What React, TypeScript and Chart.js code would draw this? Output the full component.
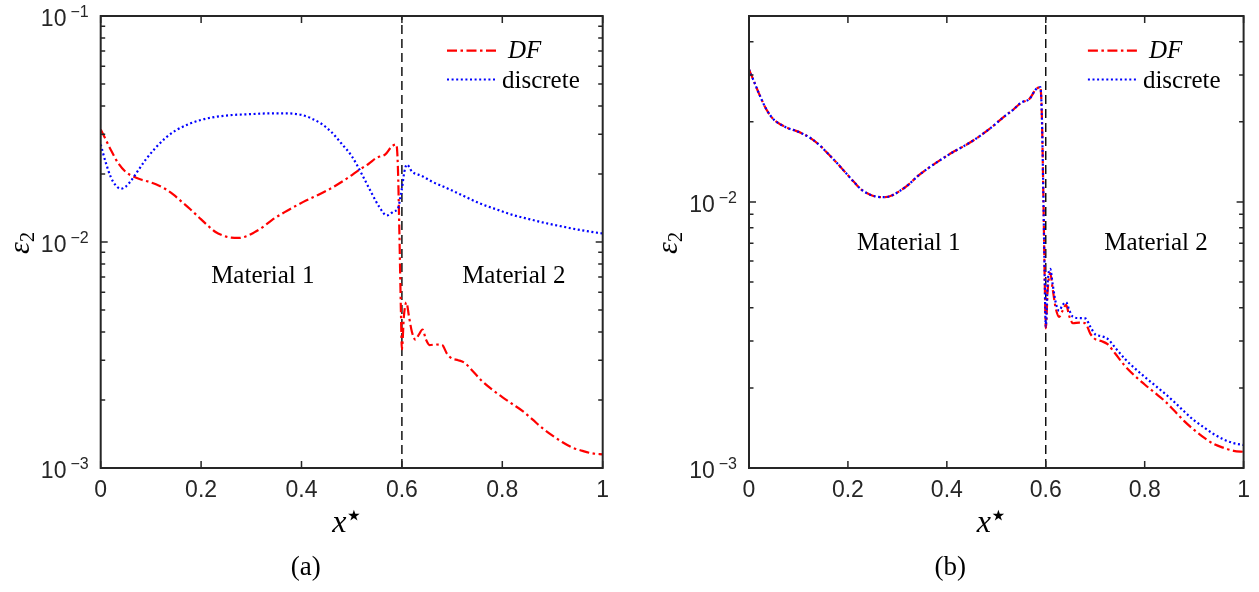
import React, { useEffect, useRef } from "react";
import { Chart, registerables } from "chart.js";

Chart.register(...registerables);

// ---------------- data ----------------
const xTickValues = [0, 0.2, 0.4, 0.6, 0.8, 1];
const decadeExponents = [-3, -2, -1];
const interfaceX = 0.6;
const legendLabels = ["DF", "discrete"];
const materialLabels = ["Material 1", "Material 2"];
const captions = ["(a)", "(b)"];

// DF curve (same in both panels)
const dfX = [0, 0.01, 0.02, 0.035, 0.05, 0.065, 0.08, 0.095, 0.11, 0.128, 0.145, 0.161, 0.178, 0.195, 0.212, 0.228, 0.245, 0.26, 0.275, 0.29, 0.305, 0.322, 0.341, 0.36, 0.375, 0.39, 0.41, 0.434, 0.455, 0.474, 0.495, 0.514, 0.534, 0.55, 0.567, 0.58, 0.589, 0.592, 0.595, 0.598, 0.6, 0.604, 0.609, 0.614, 0.62, 0.627, 0.634, 0.641, 0.648, 0.655, 0.668, 0.68, 0.69, 0.7, 0.712, 0.725, 0.74, 0.76, 0.78, 0.8, 0.82, 0.84, 0.86, 0.88, 0.9, 0.92, 0.94, 0.96, 0.98, 1];
const dfY = [0.0315, 0.0284, 0.0256, 0.0223, 0.0204, 0.0195, 0.0189, 0.0185, 0.018, 0.0172, 0.0162, 0.0151, 0.014, 0.0129, 0.0119, 0.0111, 0.01065, 0.01045, 0.01042, 0.0106, 0.011, 0.0116, 0.0125, 0.0133, 0.0139, 0.0145, 0.0153, 0.0162, 0.0171, 0.0181, 0.0194, 0.0208, 0.0222, 0.0236, 0.0244, 0.0265, 0.027, 0.0215, 0.011, 0.005, 0.00335, 0.0047, 0.0054, 0.0047, 0.004, 0.0037, 0.0039, 0.0041, 0.0037, 0.0035, 0.00352, 0.0035, 0.0032, 0.00305, 0.003, 0.00292, 0.0027, 0.00242, 0.00222, 0.00206, 0.00192, 0.00179, 0.00164, 0.0015, 0.00139, 0.0013, 0.00123, 0.00119, 0.00116, 0.00115];

// discrete curve, panel (a)
const discAX = [0, 0.01, 0.02, 0.03, 0.04, 0.05, 0.06, 0.075, 0.09, 0.11, 0.13, 0.15, 0.175, 0.2, 0.23, 0.265, 0.3, 0.34, 0.37, 0.4, 0.42, 0.44, 0.46, 0.48, 0.5, 0.52, 0.54, 0.555, 0.57, 0.585, 0.592, 0.597, 0.6, 0.605, 0.61, 0.62, 0.64, 0.66, 0.69, 0.72, 0.756, 0.79, 0.822, 0.855, 0.888, 0.92, 0.955, 1];
const discAY = [0.027, 0.0225, 0.0194, 0.0178, 0.0172, 0.0176, 0.0186, 0.0208, 0.0232, 0.0262, 0.029, 0.0312, 0.0332, 0.0347, 0.0358, 0.0365, 0.0368, 0.0371, 0.0371, 0.0365, 0.0352, 0.0333, 0.0306, 0.0272, 0.024, 0.02, 0.0164, 0.0143, 0.0131, 0.0137, 0.014, 0.0158, 0.0172, 0.0205, 0.022, 0.0205, 0.0196, 0.0185, 0.0173, 0.0161, 0.0148, 0.0139, 0.01315, 0.0126, 0.0121, 0.0117, 0.0113, 0.0109];

// discrete curve, panel (b)
const discBX = [0, 0.01, 0.02, 0.035, 0.05, 0.065, 0.08, 0.095, 0.11, 0.128, 0.145, 0.161, 0.178, 0.195, 0.212, 0.228, 0.245, 0.26, 0.275, 0.29, 0.305, 0.322, 0.341, 0.36, 0.375, 0.39, 0.41, 0.434, 0.455, 0.474, 0.495, 0.514, 0.534, 0.55, 0.567, 0.58, 0.589, 0.592, 0.595, 0.598, 0.6, 0.604, 0.609, 0.614, 0.62, 0.627, 0.634, 0.641, 0.648, 0.655, 0.668, 0.68, 0.69, 0.7, 0.712, 0.725, 0.74, 0.76, 0.78, 0.8, 0.82, 0.84, 0.86, 0.88, 0.9, 0.92, 0.94, 0.96, 0.98, 1];
const discBY = [0.0315, 0.0284, 0.0256, 0.0223, 0.0204, 0.0195, 0.0189, 0.0185, 0.018, 0.0172, 0.0162, 0.0151, 0.014, 0.0129, 0.0119, 0.0111, 0.01065, 0.01045, 0.01042, 0.0106, 0.011, 0.0116, 0.0125, 0.0133, 0.0139, 0.0145, 0.0153, 0.0162, 0.0171, 0.0181, 0.0194, 0.0208, 0.0222, 0.0236, 0.0244, 0.0265, 0.027, 0.0215, 0.011, 0.005, 0.0034, 0.005, 0.0056, 0.0049, 0.0042, 0.0039, 0.0041, 0.0042, 0.0039, 0.0037, 0.00366, 0.00365, 0.0034, 0.00318, 0.00313, 0.00306, 0.00284, 0.00257, 0.00237, 0.0022, 0.00205, 0.00191, 0.00177, 0.00163, 0.00151, 0.00142, 0.00134, 0.00128, 0.00124, 0.00122];

const yMinValue = 0.001;
const yMaxA = 0.1;
const yMaxB = 0.05;

// ---------------- styling ----------------
const AXIS = "#262626";
const SANS = '"Liberation Sans", Arial, Helvetica, sans-serif';
const SERIF = '"Liberation Serif", "Times New Roman", serif';
const RED_DASH = [10, 3.5, 2.5, 3.5];
const BLUE_DOT = [2, 2.6];

const toPoints = (xs: number[], ys: number[]) => xs.map((x, i) => ({ x, y: ys[i] }));

const decorPlugin = {
  id: "decor",
  afterDatasetsDraw(chart: any) {
    const { ctx, chartArea: a } = chart;
    const xs = chart.scales.x;
    const ys = chart.scales.y;
    const yMax = ys.max;
    ctx.save();
    ctx.strokeStyle = AXIS;
    ctx.setLineDash([]);
    ctx.lineWidth = 2;
    ctx.strokeRect(a.left, a.top, a.right - a.left, a.bottom - a.top);
    ctx.lineWidth = 1.5;
    ctx.beginPath();
    for (const t of xTickValues) {
      const px = xs.getPixelForValue(t);
      ctx.moveTo(px, a.bottom);
      ctx.lineTo(px, a.bottom - 7);
      ctx.moveTo(px, a.top);
      ctx.lineTo(px, a.top + 7);
    }
    for (const e of decadeExponents) {
      for (let m = 1; m <= 9; m++) {
        const v = m * Math.pow(10, e);
        if (v > yMax * 1.001) break;
        const py = ys.getPixelForValue(v);
        const len = m === 1 ? 7 : 4.5;
        ctx.moveTo(a.left, py);
        ctx.lineTo(a.left + len, py);
        ctx.moveTo(a.right, py);
        ctx.lineTo(a.right - len, py);
      }
    }
    ctx.stroke();
    ctx.restore();
  },
  afterDraw(chart: any) {
    const o = chart.options.plugins.decor;
    const { ctx, chartArea: a } = chart;
    const xs = chart.scales.x;
    const ys = chart.scales.y;
    ctx.save();
    ctx.fillStyle = AXIS;

    // y tick labels 10^e
    for (const e of decadeExponents) {
      const v = Math.pow(10, e);
      if (v > ys.max * 1.001) continue;
      const py = ys.getPixelForValue(v);
      const expStr = "\u2212" + Math.abs(e);
      ctx.textAlign = "right";
      ctx.textBaseline = "middle";
      ctx.font = "16px " + SANS;
      const xr = a.left - 12;
      ctx.fillText(expStr, xr, py - 3);
      const w = ctx.measureText(expStr).width;
      ctx.font = "23px " + SANS;
      ctx.fillText("10", xr - w - 4, py + 4);
    }

    // y axis title: epsilon_2 (rotated)
    ctx.save();
    ctx.translate(a.left - 72, (a.top + a.bottom) / 2 + 1);
    ctx.rotate(-Math.PI / 2);
    ctx.fillStyle = "#000";
    ctx.textBaseline = "alphabetic";
    ctx.textAlign = "left";
    ctx.font = "italic 30px " + SERIF;
    const we = ctx.measureText("\u03B5").width;
    ctx.font = "20px " + SERIF;
    const w2 = ctx.measureText("2").width;
    const sx = -(we + w2) / 2;
    ctx.font = "italic 30px " + SERIF;
    ctx.fillText("\u03B5", sx, 0);
    ctx.font = "20px " + SERIF;
    ctx.fillText("2", sx + we, 5);
    ctx.restore();

    // x axis title: x*
    ctx.save();
    ctx.fillStyle = "#000";
    ctx.textAlign = "left";
    ctx.textBaseline = "alphabetic";
    ctx.font = "italic 32px " + SERIF;
    const wx = ctx.measureText("x").width;
    ctx.font = "30px \"DejaVu Sans\", sans-serif";
    const ws = ctx.measureText("\u22C6").width;
    const cx = (a.left + a.right) / 2 - 3;
    const start = cx - (wx + ws) / 2;
    ctx.font = "italic 32px " + SERIF;
    ctx.fillText("x", start, 532);
    ctx.font = "30px \"DejaVu Sans\", sans-serif";
    ctx.fillText("\u22C6", start + wx - 2, 525);
    ctx.restore();

    // caption
    ctx.fillStyle = "#000";
    ctx.textAlign = "center";
    ctx.textBaseline = "middle";
    ctx.font = "27px " + SERIF;
    ctx.fillText(o.caption, (a.left + a.right) / 2 - 46, 568);

    // material labels
    ctx.textBaseline = "alphabetic";
    ctx.font = "25px " + SERIF;
    const my = ys.getPixelForValue(0.0066);
    ctx.fillText(materialLabels[0], xs.getPixelForValue(0.323), my);
    ctx.fillText(materialLabels[1], xs.getPixelForValue(0.823), my);

    // legend
    const lx = a.right - 155.7;
    const r1 = a.top + 34.7;
    const r2 = a.top + 63.5;
    ctx.lineWidth = 2.2;
    ctx.strokeStyle = "#ff0000";
    ctx.setLineDash(RED_DASH);
    ctx.beginPath();
    ctx.moveTo(lx, r1);
    ctx.lineTo(lx + 50, r1);
    ctx.stroke();
    ctx.strokeStyle = "#0000ff";
    ctx.setLineDash(BLUE_DOT);
    ctx.beginPath();
    ctx.moveTo(lx, r2);
    ctx.lineTo(lx + 48, r2);
    ctx.stroke();
    ctx.setLineDash([]);
    ctx.textAlign = "left";
    ctx.fillStyle = "#000";
    ctx.font = "italic 25px " + SERIF;
    ctx.fillText(legendLabels[0], lx + 61, a.top + 42);
    ctx.font = "25px " + SERIF;
    ctx.fillText(legendLabels[1], lx + 55, a.top + 72);
    ctx.restore();
  },
};

type PanelSpec = {
  discX: number[];
  discY: number[];
  yMax: number;
  padLeft: number;
  padRight: number;
  caption: string;
  canvasLeft: number;
  width: number;
};

const panels: PanelSpec[] = [
  { discX: discAX, discY: discAY, yMax: yMaxA, padLeft: 100.7, padRight: 22.3, caption: captions[0], canvasLeft: 0, width: 625 },
  { discX: discBX, discY: discBY, yMax: yMaxB, padLeft: 115, padRight: 8.3, caption: captions[1], canvasLeft: 634, width: 625 },
];

function makeConfig(p: PanelSpec): any {
  return {
    type: "line",
    data: {
      datasets: [
        {
          label: legendLabels[1],
          data: toPoints(p.discX, p.discY),
          borderColor: "#0000ff",
          borderWidth: 2.2,
          borderDash: BLUE_DOT,
          pointRadius: 0,
          cubicInterpolationMode: "monotone",
          order: 0,
        },
        {
          label: legendLabels[0],
          data: toPoints(dfX, dfY),
          borderColor: "#ff0000",
          borderWidth: 2.2,
          borderDash: RED_DASH,
          pointRadius: 0,
          cubicInterpolationMode: "monotone",
          order: 1,
        },
        {
          label: "interface",
          data: [
            { x: interfaceX, y: yMinValue },
            { x: interfaceX, y: p.yMax },
          ],
          borderColor: "#000000",
          borderWidth: 1.4,
          borderDash: [9, 5],
          pointRadius: 0,
          tension: 0,
          order: 2,
        },
      ],
    },
    options: {
      responsive: false,
      animation: false,
      events: [],
      layout: { padding: { left: p.padLeft, right: p.padRight, top: 16, bottom: 0 } },
      plugins: {
        legend: { display: false },
        tooltip: { enabled: false },
        decor: { caption: p.caption },
      },
      scales: {
        x: {
          type: "linear",
          min: 0,
          max: 1,
          grid: { display: false, drawTicks: false },
          border: { display: false },
          ticks: {
            stepSize: 0.2,
            autoSkip: false,
            maxRotation: 0,
            padding: 9,
            color: AXIS,
            font: { family: SANS, size: 23 },
            callback: (v: number) => String(Number(v.toFixed(1))),
          },
          afterFit: (s: any) => {
            s.height = 124;
          },
        },
        y: {
          type: "logarithmic",
          min: yMinValue,
          max: p.yMax,
          display: false,
        },
      },
    },
    plugins: [decorPlugin],
  };
}

function Panel({ spec }: { spec: PanelSpec }) {
  const ref = useRef<HTMLCanvasElement>(null);
  useEffect(() => {
    const chart = new Chart(ref.current as HTMLCanvasElement, makeConfig(spec));
    return () => chart.destroy();
  }, [spec]);
  return (
    <canvas
      ref={ref}
      width={spec.width}
      height={592}
      style={{ position: "absolute", left: spec.canvasLeft, top: 0, width: spec.width, height: 592 }}
    />
  );
}

export default function App() {
  return (
    <div style={{ position: "fixed", left: 0, top: 0, width: 1259, height: 592, background: "#ffffff" }}>
      {panels.map((p, i) => (
        <Panel key={i} spec={p} />
      ))}
    </div>
  );
}
